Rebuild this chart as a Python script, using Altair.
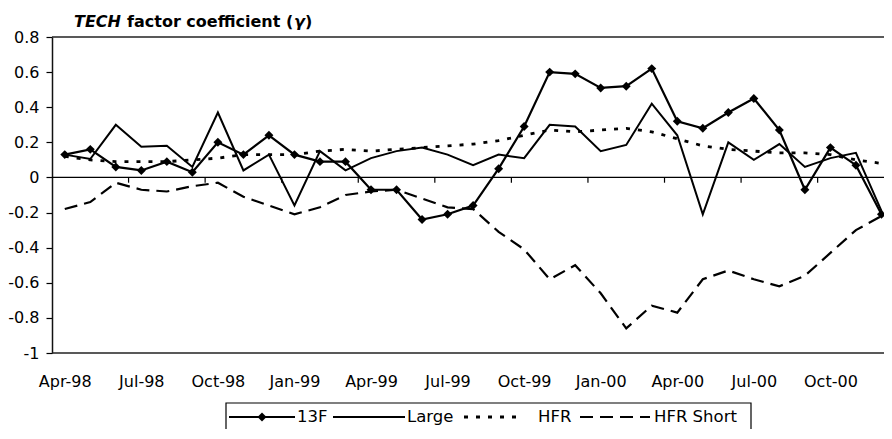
import altair as alt
import pandas as pd

months = ["Apr-98", "May-98", "Jun-98", "Jul-98", "Aug-98", "Sep-98", "Oct-98", "Nov-98", "Dec-98",
          "Jan-99", "Feb-99", "Mar-99", "Apr-99", "May-99", "Jun-99", "Jul-99", "Aug-99", "Sep-99",
          "Oct-99", "Nov-99", "Dec-99", "Jan-00", "Feb-00", "Mar-00", "Apr-00", "May-00", "Jun-00",
          "Jul-00", "Aug-00", "Sep-00", "Oct-00", "Nov-00", "Dec-00"]

f13 = [0.13, 0.16, 0.06, 0.04, 0.09, 0.03, 0.20, 0.13, 0.24, 0.13, 0.09, 0.09, -0.07, -0.07,
       -0.24, -0.21, -0.16, 0.05, 0.29, 0.60, 0.59, 0.51, 0.52, 0.62, 0.32, 0.28, 0.37, 0.45,
       0.27, -0.07, 0.17, 0.07, -0.21]
large = [0.13, 0.105, 0.30, 0.175, 0.18, 0.06, 0.37, 0.04, 0.13, -0.16, 0.15, 0.04, 0.11, 0.15,
         0.17, 0.13, 0.07, 0.13, 0.11, 0.30, 0.29, 0.15, 0.185, 0.42, 0.24, -0.21, 0.20, 0.10,
         0.19, 0.06, 0.11, 0.14, -0.19]
hfr = [0.12, 0.10, 0.09, 0.09, 0.09, 0.10, 0.11, 0.13, 0.13, 0.13, 0.15, 0.16, 0.15, 0.16,
       0.17, 0.18, 0.19, 0.21, 0.24, 0.27, 0.26, 0.27, 0.28, 0.26, 0.22, 0.18, 0.16, 0.15,
       0.14, 0.14, 0.13, 0.10, 0.08]
hfr_short = [-0.18, -0.14, -0.03, -0.07, -0.08, -0.05, -0.03, -0.11, -0.16, -0.21, -0.17, -0.10,
             -0.08, -0.07, -0.12, -0.17, -0.18, -0.31, -0.41, -0.58, -0.50, -0.66, -0.86, -0.73,
             -0.77, -0.58, -0.53, -0.58, -0.62, -0.56, -0.43, -0.30, -0.22]
y_ticks = [-1, -0.8, -0.6, -0.4, -0.2, 0, 0.2, 0.4, 0.6, 0.8]
legend_names = ["13F", "Large", "HFR", "HFR Short"]

idx = list(range(len(months)))
df = pd.DataFrame({"i": idx, "month": months, "f13": f13, "large": large,
                   "hfr": hfr, "hfr_short": hfr_short})

FONT = "DejaVu Sans"
xscale = alt.Scale(domain=[-0.5, 32.1], nice=False, zero=False)
yscale = alt.Scale(domain=[-1, 0.8], nice=False, zero=False)

label_js = "[" + ",".join("'%s'" % m for m in months) + "][datum.value]"

xaxis = alt.Axis(values=idx[::3], labelExpr=label_js, title=None, grid=False, domain=False,
                 ticks=False, tickSize=0, labelPadding=20, labelFont=FONT, labelFontSize=16,
                 labelColor="black", labelFlush=False, labelOverlap=False)
yaxis = alt.Axis(values=y_ticks, labelExpr="'' + round(datum.value*10)/10", title=None,
                 grid=False, domain=True, domainColor="#111", domainWidth=1.5, ticks=True,
                 tickSize=6, tickColor="black", tickWidth=1.2, labelPadding=7, labelFont=FONT,
                 labelFontSize=16, labelColor="black", labelOverlap=False)

base = alt.Chart(df)
X = alt.X("i:Q", scale=xscale, axis=xaxis)


def Y(field):
    return alt.Y(field, scale=yscale, axis=yaxis)


# zero line and plot-area borders (top at 0.8, bottom at -1)
hlines = alt.Chart(pd.DataFrame({"z": [0]})).mark_rule(color="black", strokeWidth=1.3).encode(
    y=Y("z:Q"))
borders = alt.Chart(pd.DataFrame({"z": [y_ticks[0], y_ticks[-1]]})).mark_rule(
    color="#222", strokeWidth=1.5).encode(y=Y("z:Q"))

bounds = [3 * k - 0.5 for k in range(1, 11)]
ticks = alt.Chart(pd.DataFrame({"i": bounds, "y0": [0] * 10, "y1": [-0.03] * 10})).mark_rule(
    color="black", strokeWidth=1.2).encode(x=X, y=Y("y0:Q"), y2="y1:Q")

short = base.mark_line(color="black", strokeWidth=2.2, strokeDash=[13, 7]).encode(x=X, y=Y("hfr_short:Q"))
dotted = base.mark_line(color="black", strokeWidth=2.8, strokeDash=[4, 8]).encode(x=X, y=Y("hfr:Q"))
solid = base.mark_line(color="black", strokeWidth=2).encode(x=X, y=Y("large:Q"))
l13 = base.mark_line(color="black", strokeWidth=2.2,
                     point=alt.OverlayMarkDef(shape="diamond", filled=True, size=80, color="black",
                                              opacity=1)).encode(x=X, y=Y("f13:Q"))

one = pd.DataFrame({"k": [0]})


def txt(s, x, y, size, weight="normal", style="normal", align="left"):
    return alt.Chart(one).mark_text(text=s, font=FONT, fontSize=size, fontWeight=weight,
                                    fontStyle=style, align=align, baseline="middle",
                                    color="black").encode(x=alt.value(x), y=alt.value(y))


title_layers = [
    txt("TECH", 22, -15, 16, "bold", "italic", "left"),
    txt("factor coefficient (", 75, -15, 16, "bold", "normal", "left"),
    txt("\u03b3", 242, -15, 16, "bold", "italic"),
    txt(")", 253, -15, 16, "bold"),
]

ly = 380
legend_box = alt.Chart(one).mark_rect(fill="white", stroke="black", strokeWidth=1.2).encode(
    x=alt.value(174), x2=alt.value(699), y=alt.value(366), y2=alt.value(410))


def lrule(x1, x2, dash=None, w=2.0):
    kw = dict(color="black", strokeWidth=w)
    if dash:
        kw["strokeDash"] = dash
    return alt.Chart(one).mark_rule(**kw).encode(x=alt.value(x1), x2=alt.value(x2), y=alt.value(ly))


legend_layers = [
    legend_box,
    lrule(177, 243, w=2.2),
    alt.Chart(one).mark_point(shape="diamond", filled=True, size=80, color="black", opacity=1).encode(
        x=alt.value(210), y=alt.value(ly)),
    txt(legend_names[0], 245, ly, 16.5),
    lrule(281, 353, w=2),
    txt(legend_names[1], 355, ly, 16.5),
    lrule(412, 472, dash=[4, 8], w=2.8),
    txt(legend_names[2], 486, ly, 16.5),
    lrule(528, 598, dash=[13, 7], w=2.2),
    txt(legend_names[3], 602, ly, 16.5),
]

chart = alt.layer(hlines, borders, ticks, short, dotted, solid, l13,
                  *title_layers, *legend_layers).properties(
    width=832, height=316,
    autosize=alt.AutoSizeParams(type="none"),
    padding={"left": 44, "top": 29, "right": 0, "bottom": 76},
    background="white",
).configure_view(strokeWidth=0)

chart.save("out.html", embed_options={"renderer": "svg", "actions": False})
